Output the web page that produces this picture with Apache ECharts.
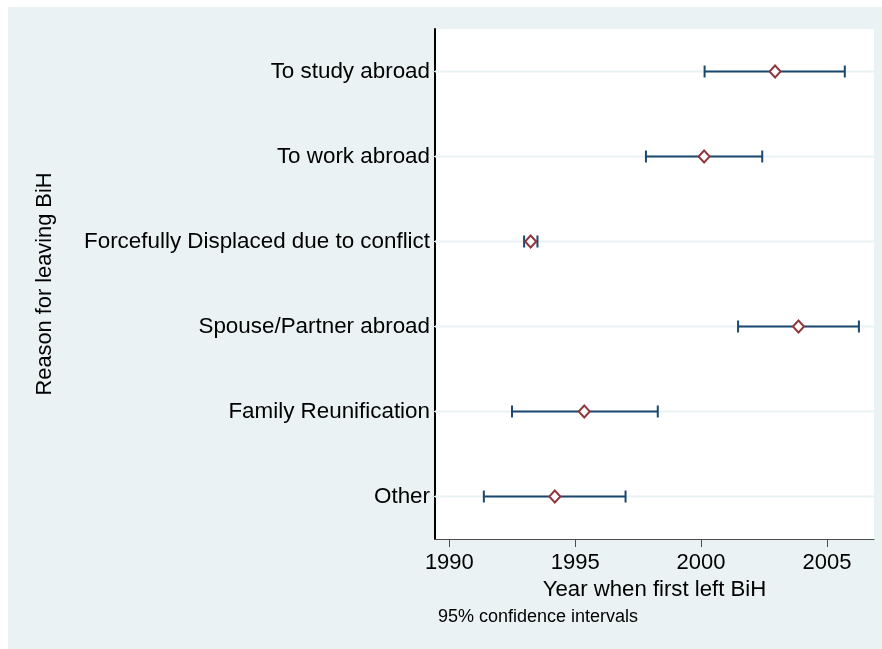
<!DOCTYPE html>
<html>
<head>
<meta charset="utf-8">
<script src="https://cdn.jsdelivr.net/npm/echarts@6/dist/echarts.min.js"></script>
<style>
html,body{margin:0;padding:0;background:#ffffff;}
#chart{width:882px;height:649px;}
</style>
</head>
<body>
<div id="chart"></div>
<script>
// Categories (top to bottom)
var categories = ["To study abroad", "To work abroad", "Forcefully Displaced due to conflict", "Spouse/Partner abroad", "Family Reunification", "Other"];
// Mean year when first left BiH
var meanYear = [2002.94, 2000.12, 1993.23, 2003.87, 1995.36, 1994.19];
// 95% CI lower / upper bounds
var ciLow  = [2000.14, 1997.81, 1992.97, 2001.47, 1992.49, 1991.37];
var ciHigh = [2005.71, 2002.43, 1993.50, 2006.27, 1998.28, 1997.00];
// X tick labels
var xTicks = [1990, 1995, 2000, 2005];

var FONT = "Liberation Sans, Arial, Helvetica, sans-serif";
var BG = "#eaf2f3";
var NAVY = "#1a476f";
var MAROON = "#90353b";

var ciData = categories.map(function (c, i) { return [ciLow[i], ciHigh[i], i]; });
var meanData = categories.map(function (c, i) { return [meanYear[i], i]; });
var gridData = categories.map(function (c, i) { return [i]; });

var chart = echarts.init(document.getElementById('chart'), null, {renderer: 'canvas'});
chart.setOption({
  animation: false,
  backgroundColor: '#ffffff',
  graphic: [
    {type: 'rect', left: 8, top: 7, shape: {width: 874, height: 642}, style: {fill: BG}, z: -10, silent: true},
    {type: 'text', left: 438, top: 608, style: {text: '95% confidence intervals', fill: '#000', font: '18px ' + FONT}, z: 10}
  ],
  grid: {
    left: 435, top: 29, right: 8, bottom: 110,
    show: true, backgroundColor: '#ffffff', borderWidth: 0,
    containLabel: false
  },
  xAxis: {
    type: 'value',
    min: 1989.43, max: 2006.87,
    name: 'Year when first left BiH',
    nameLocation: 'middle',
    nameGap: 37,
    nameTextStyle: {fontFamily: FONT, fontSize: 22.2, color: '#000'},
    axisLine: {show: true, lineStyle: {color: '#4d4d4d', width: 1}},
    axisTick: {show: true, length: 8, inside: false, customValues: xTicks, lineStyle: {color: '#4d4d4d', width: 1}},
    axisLabel: {
      customValues: xTicks, margin: 13, fontFamily: FONT, fontSize: 22, color: '#000',
      showMinLabel: true, showMaxLabel: true,
      formatter: function (v) { return String(Math.round(v)); }
    },
    splitLine: {show: false}
  },
  yAxis: {
    type: 'category',
    data: categories,
    inverse: true,
    name: 'Reason for leaving BiH',
    nameLocation: 'middle',
    nameGap: 379,
    nameRotate: 90,
    nameTextStyle: {fontFamily: FONT, fontSize: 21.8, color: '#000'},
    axisLine: {show: true, lineStyle: {color: '#000', width: 2}},
    axisTick: {show: true, alignWithLabel: true, length: 3, lineStyle: {color: '#d8e2e4'}},
    axisLabel: {margin: 5, fontFamily: FONT, fontSize: 22.4, color: '#000', padding: [6, 0, 0, 0]},
    splitLine: {show: false}
  },
  series: [
    {
      type: 'custom',
      z: 1,
      silent: true,
      data: gridData,
      encode: {y: 0},
      renderItem: function (params, api) {
        var cs = params.coordSys;
        var y = api.coord([1990, api.value(0)])[1];
        return {
          type: 'line',
          shape: {x1: cs.x, y1: y, x2: cs.x + cs.width, y2: y},
          style: {stroke: BG, lineWidth: 2}
        };
      }
    },
    {
      type: 'custom',
      z: 2,
      data: ciData,
      encode: {x: [0, 1], y: 2},
      renderItem: function (params, api) {
        var p1 = api.coord([api.value(0), api.value(2)]);
        var p2 = api.coord([api.value(1), api.value(2)]);
        var h = 6;
        var st = {stroke: NAVY, lineWidth: 2};
        return {
          type: 'group',
          children: [
            {type: 'line', shape: {x1: p1[0], y1: p1[1], x2: p2[0], y2: p2[1]}, style: st},
            {type: 'line', shape: {x1: p1[0], y1: p1[1] - h, x2: p1[0], y2: p1[1] + h}, style: st},
            {type: 'line', shape: {x1: p2[0], y1: p2[1] - h, x2: p2[0], y2: p2[1] + h}, style: st}
          ]
        };
      }
    },
    {
      type: 'scatter',
      z: 3,
      data: meanData,
      symbol: 'diamond',
      symbolSize: [11, 12],
      itemStyle: {color: '#ffffff', borderColor: MAROON, borderWidth: 2, opacity: 1}
    }
  ]
});
</script>
</body>
</html>
